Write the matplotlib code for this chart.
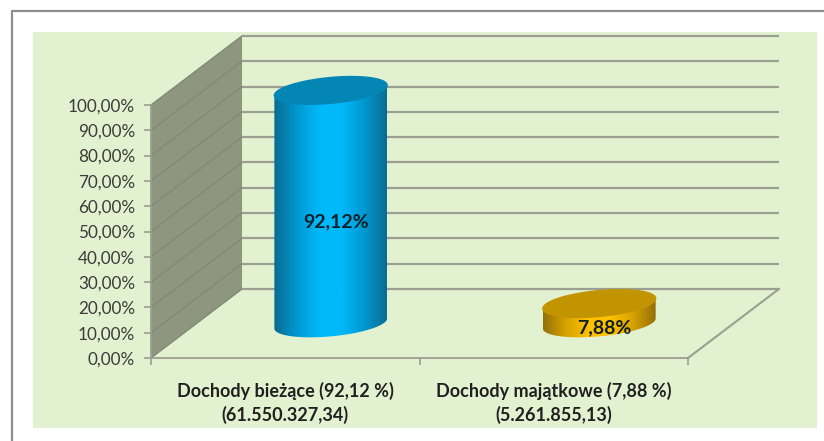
import matplotlib
matplotlib.use('Agg')
import matplotlib.pyplot as plt
import numpy as np
from matplotlib.colors import LinearSegmentedColormap
from matplotlib.patches import Polygon, Rectangle
from matplotlib.lines import Line2D

labels = ['Dochody bieżące (92,12 %)\n(61.550.327,34)', 'Dochody majątkowe (7,88 %)\n(5.261.855,13)']
values = [92.12, 7.88]
value_labels = ['92,12%', '7,88%']
yticks = [0, 10, 20, 30, 40, 50, 60, 70, 80, 90, 100]
ytick_labels = ['0,00%', '10,00%', '20,00%', '30,00%', '40,00%', '50,00%',
                '60,00%', '70,00%', '80,00%', '90,00%', '100,00%']

W, H = 824, 441
GRID = '#9a9f92'
DX = 0.339   # depth of the 3d box, in data units
DY = 27.3
RX = 0.21    # cylinder radius
RY = 5.1
SKEW = 2.0

fig = plt.figure(figsize=(W / 100, H / 100), dpi=100, facecolor='white')
plt.rcParams['font.family'] = ['Lato', 'DejaVu Sans']

# frame and green panel
fig.add_artist(Rectangle((33 / W, 1 - 428 / H), 784 / W, 396 / H, transform=fig.transFigure,
                         fc='#e2f1cf', ec='none', zorder=-5))
fig.add_artist(Line2D([12 / W, 12 / W, 1], [0, 1 - 11 / H, 1 - 11 / H], transform=fig.transFigure,
                      color='#8e8e8e', lw=1.6))

ax = fig.add_axes([151 / W, 1 - 358 / H, 537 / W, 253 / H])
ax.patch.set_alpha(0)

# side wall, back wall lines, floor
ax.add_patch(Polygon([(0, 0), (DX, DY), (DX, 100 + DY), (0, 100)], fc='#8f9680', ec='none',
                     clip_on=False, zorder=1))
for t in yticks:
    ax.plot([0, DX], [t, t + DY], color='#808877', lw=1, clip_on=False, zorder=2)
    ax.plot([DX, 2 + DX], [t + DY, t + DY], color=GRID, lw=1.6, clip_on=False, zorder=2,
            solid_capstyle='butt')
ax.plot([2, 2 + DX], [0, DY], color=GRID, lw=1.5, clip_on=False, zorder=2)

# cylinders
blue = LinearSegmentedColormap.from_list('b', ['#0a6c92', '#0098d0', '#00b9fa', '#00b9fa', '#0098d0', '#0a6c92'])
gold = LinearSegmentedColormap.from_list('g', ['#94700a', '#d6a200', '#ffc000', '#ffc000', '#d6a200', '#94700a'])
cmaps = [blue, gold]
top_colors = ['#0486b4', '#c29400']
grad = np.linspace(0, 1, 256).reshape(1, -1)

for i, v in enumerate(values):
    cx = i + 0.5 + DX / 2
    cy = DY / 2
    t = np.linspace(np.pi, 2 * np.pi, 80)
    lx = cx + RX * np.cos(t)
    ly = cy + RY * np.sin(t) + SKEW * np.cos(t)
    xs = np.concatenate([lx, lx[::-1]])
    ys = np.concatenate([ly, ly[::-1] + v])
    body = Polygon(np.column_stack([xs, ys]), fc='none', ec='none', transform=ax.transData)
    ax.add_patch(body)
    im = ax.imshow(grad, cmap=cmaps[i], extent=[cx - RX, cx + RX, cy - 10, cy + v + 10],
                   aspect='auto', zorder=3, interpolation='bilinear')
    im.set_clip_path(body)
    im.set_clip_box(fig.bbox)
    t = np.linspace(0, 2 * np.pi, 160)
    ax.fill(cx + RX * np.cos(t), cy + v + RY * np.sin(t) + SKEW * np.cos(t),
            color=top_colors[i], zorder=4, clip_on=False)
    ax.annotate(value_labels[i], (cx, cy + v / 2), xytext=(3.5, -10.5), textcoords='offset points',
                ha='center', va='center', fontsize=14, fontweight='bold', color='#10202a', zorder=5)

ax.set_xlim(0, 2)
ax.set_ylim(0, 100)
for s in ['top', 'right']:
    ax.spines[s].set_visible(False)
for s in ['left', 'bottom']:
    ax.spines[s].set_color(GRID)
    ax.spines[s].set_linewidth(1.3)
ax.set_yticks(yticks)
ax.set_yticklabels(ytick_labels, fontsize=12.3, color='#3c3c3c')
ax.tick_params(axis='y', length=5, width=1.2, color=GRID, pad=6.5)
ax.set_xticks([0, 1, 2])
ax.set_xticklabels([])
ax.tick_params(axis='x', which='major', length=5, width=1.2, color=GRID)
ax.set_xticks([0.5, 1.5], labels, minor=True, fontsize=13, fontweight='bold', color='#202020')
ax.tick_params(axis='x', which='minor', length=0, pad=17)
for lab in ax.get_xticklabels(minor=True):
    lab.set_linespacing(1.4)

fig.savefig('out.png', dpi=100)
